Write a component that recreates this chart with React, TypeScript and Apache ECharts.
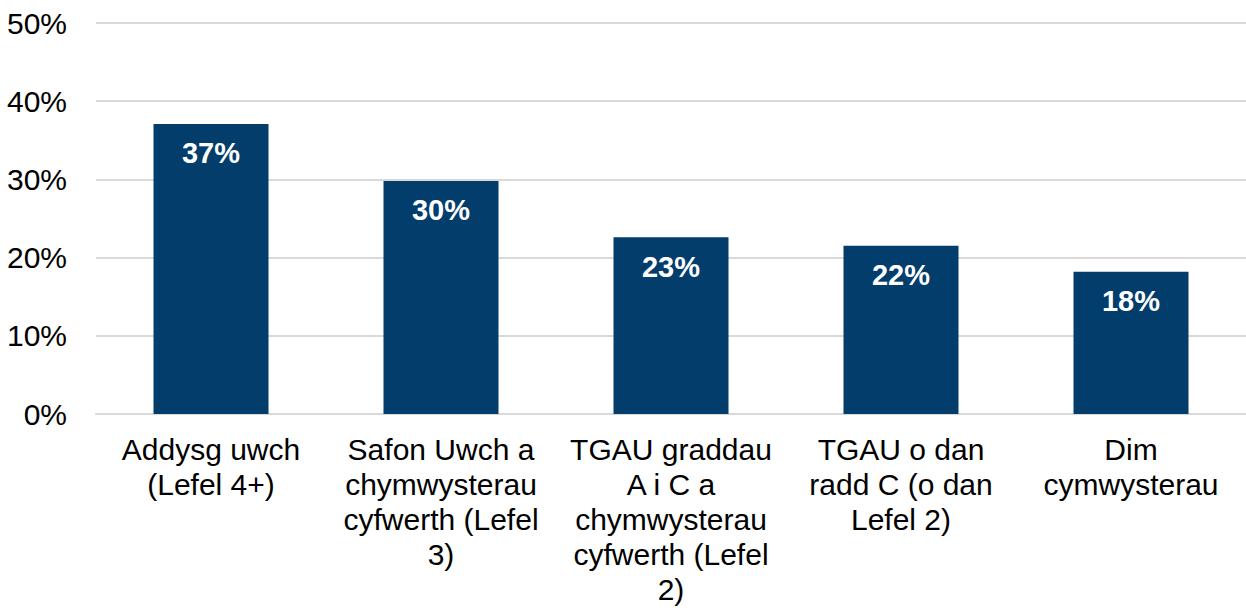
import React, { useEffect, useRef } from "react";
import * as echarts from "echarts";

const categories = [
  "Addysg uwch\n(Lefel 4+)",
  "Safon Uwch a\nchymwysterau\ncyfwerth (Lefel\n3)",
  "TGAU graddau\nA i C a\nchymwysterau\ncyfwerth (Lefel\n2)",
  "TGAU o dan\nradd C (o dan\nLefel 2)",
  "Dim\ncymwysterau",
];
const values = [37.1, 29.8, 22.6, 21.5, 18.2];
const labels = ["37%", "30%", "23%", "22%", "18%"];

export default function App() {
  const ref = useRef<HTMLDivElement>(null);
  useEffect(() => {
    if (!ref.current) return;
    const chart = echarts.init(ref.current, null, { renderer: "svg" });
    const font = "'Liberation Sans', Arial, sans-serif";
    chart.setOption({
      animation: false,
      grid: { left: 96, right: 0, top: 23, height: 391, containLabel: false },
      xAxis: {
        type: "category",
        data: categories,
        axisLine: { show: true, lineStyle: { color: "#d9d9d9", width: 2 } },
        axisTick: { show: false },
        axisLabel: {
          interval: 0,
          color: "#000",
          fontSize: 30,
          fontFamily: font,
          lineHeight: 35,
          margin: 18,
          align: "center",
        },
      },
      yAxis: {
        type: "value",
        min: 0,
        max: 50,
        interval: 10,
        axisLine: { show: false },
        axisTick: { show: false },
        splitLine: { lineStyle: { color: "#d9d9d9", width: 2 } },
        axisLabel: {
          formatter: "{value}%",
          color: "#000",
          fontSize: 30,
          fontFamily: font,
          margin: 29,
        },
      },
      series: [
        {
          type: "bar",
          data: values,
          barWidth: "50%",
          itemStyle: { color: "#023d6b" },
          label: {
            show: true,
            position: "insideTop",
            distance: 15,
            color: "#fff",
            fontWeight: "bold",
            fontSize: 29,
            fontFamily: font,
            formatter: (p: any) => labels[p.dataIndex],
          },
        },
      ],
    });
    return () => chart.dispose();
  }, []);
  return (
    <div
      ref={ref}
      style={{ position: "absolute", left: 0, top: 0, width: 1246, height: 608 }}
    />
  );
}
